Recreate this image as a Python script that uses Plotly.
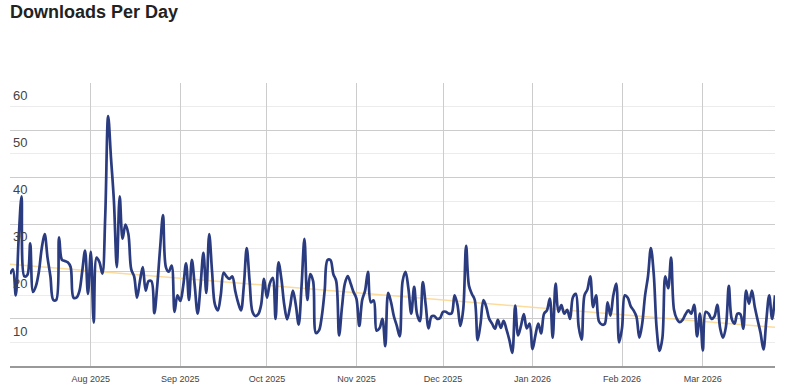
import numpy as np
import pandas as pd
import plotly.graph_objects as go

# ---- data ----
start_date = "2025-07-04"
downloads = [
    19.5, 20.5, 15, 27, 36, 19, 19.3, 26, 15.7, 17,
    20, 25, 28, 23, 19, 14, 14, 27.3, 22.5, 22.3,
    22, 21, 14.5, 14.5, 15.8, 20, 24.5, 15.3, 24.2, 9.2,
    23, 22, 19.6, 32, 53, 44, 35, 21, 36, 27,
    30, 28, 20.5, 19, 14.5, 18, 21, 16, 18, 18,
    11.2, 17, 25, 32, 21, 20, 21.3, 11.5, 15, 13.8,
    17, 21.8, 14, 22.5, 17, 11.1, 17, 24, 15.5, 28,
    20, 13, 11.8, 15, 19.8, 19, 18.5, 19, 16, 13.5,
    11.8, 17, 25, 18, 11.5, 10.6, 11, 13, 18.5, 14.5,
    17.5, 18.7, 10, 22, 18.5, 13, 9.9, 12.5, 16, 13,
    8.8, 17, 27, 14, 19.5, 18, 7, 7.5, 10.5, 16,
    22.5, 22.5, 19.5, 18, 6.5, 12.5, 17.5, 19.1, 17.5, 15.7,
    14.3, 8.5, 14, 16, 20, 13.5, 13.9, 7.5, 8, 10,
    4.2, 15.5, 13.5, 10.5, 8.5, 6.3, 18, 20, 16.5, 11.1,
    16.8, 11, 9.5, 17.8, 13, 8, 10.5, 10.6, 10, 10.2,
    11.5, 11.5, 11.1, 11.2, 15, 13, 8.5, 12, 25.5, 17,
    15.3, 14, 5.5, 9, 14, 12.5, 10, 9, 7.9, 9.8,
    8.1, 9.6, 7.7, 5.5, 2.8, 12.8, 6.5, 8.5, 11, 8,
    9, 3.6, 6.5, 9, 6.9, 11.1, 11.8, 14.3, 6, 17.5,
    11.5, 12.9, 11.1, 11.9, 10, 14.6, 15.3, 8.3, 5.6, 15,
    16.2, 19, 12.5, 15, 9.5, 8.8, 8.9, 13.5, 10.7, 15,
    17.5, 5, 8, 15, 14.5, 12.7, 11.8, 10.5, 6, 9,
    15, 19, 25, 19.5, 8, 3.2, 6, 19, 16.5, 23,
    12, 10, 9.3, 9.8, 11, 11.8, 11.1, 13, 6.3, 11.1,
    3.3, 11.5, 11.1, 10, 10.5, 13, 8, 6, 8.3, 17,
    10, 9, 11.1, 11, 7.9, 16, 13.2, 16, 12.5, 9.7,
    7, 3.5, 9.7, 15, 10, 15,
]
month_ticks = ["2025-08-01", "2025-09-01", "2025-10-01", "2025-11-01",
               "2025-12-01", "2026-01-01", "2026-02-01", "2026-03-01"]
month_labels = ["Aug 2025", "Sep 2025", "Oct 2025", "Nov 2025",
                "Dec 2025", "Jan 2026", "Feb 2026", "Mar 2026"]
y_ticks = [10, 20, 30, 40, 50, 60]

dates = pd.date_range(start_date, periods=len(downloads), freq="D")

# linear trendline (least squares over the series)
idx = np.arange(len(downloads))
slope, intercept = np.polyfit(idx, downloads, 1)
trend = intercept + slope * idx

fig = go.Figure()
fig.add_trace(go.Scatter(
    x=dates, y=trend, mode="lines",
    line=dict(color="rgba(252,214,140,0.85)", width=1.5),
    hoverinfo="skip", showlegend=False,
))
fig.add_trace(go.Scatter(
    x=dates, y=downloads, mode="lines",
    line=dict(color="#2a3b7f", width=2.7, shape="spline", smoothing=1),
    showlegend=False,
))

fig.update_layout(
    width=800, height=387,
    margin=dict(l=10, r=25, t=83, b=21),
    paper_bgcolor="white", plot_bgcolor="white",
    font=dict(family="Arial, Liberation Sans, sans-serif", color="#444"),
    title=dict(
        text="Downloads Per Day",
        font=dict(family="Arial, Liberation Sans, sans-serif", size=18,
                  color="#222", weight="bold"),
        x=10 / 800, xanchor="left", xref="container",
        y=1 - 11.5 / 387, yanchor="middle", yref="container",
    ),
    xaxis=dict(
        range=[dates[0], dates[-1]],
        tickmode="array", tickvals=month_ticks, ticktext=month_labels,
        showgrid=True, gridcolor="#cccccc", gridwidth=1,
        showline=True, linecolor="#999999", linewidth=1.5,
        ticks="", zeroline=False, ticklabelstandoff=3, automargin=False,
        tickfont=dict(size=9, color="#444"),
    ),
    yaxis=dict(
        range=[0, 60.05],
        tickmode="array", tickvals=y_ticks,
        ticklabelposition="inside bottom", ticklabelshift=3,
        showgrid=True, gridcolor="#cccccc", gridwidth=1,
        minor=dict(dtick=5, tick0=0, showgrid=True, gridcolor="#ececec"),
        showline=False, zeroline=False, ticks="", automargin=False,
        tickfont=dict(size=13, color="#444"),
    ),
    hovermode=False,
)

# remove the default 8px page margin so the figure sits at the window's corner
fig.write_html("out.html", config={"displayModeBar": False},
               post_script="document.body.style.margin='0';")
